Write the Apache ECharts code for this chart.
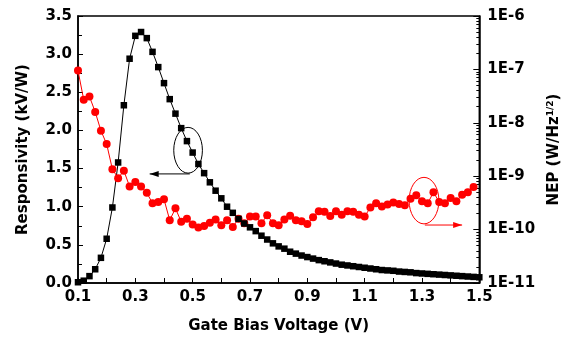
<!DOCTYPE html>
<html>
<head>
<meta charset="utf-8">
<script src="https://cdn.jsdelivr.net/npm/echarts@6/dist/echarts.min.js"></script>
<style>
  html, body { margin: 0; padding: 0; background: #fff; }
  #main { width: 570px; height: 341px; }
</style>
</head>
<body>
<div id="main"></div>
<script>
// gate voltage (V) for the responsivity curve
const voltageR = [0.10,0.12,0.14,0.16,0.18,0.20,0.22,0.24,0.26,0.28,0.30,0.32,0.34,0.36,0.38,0.40,0.42,0.44,0.46,0.48,
  0.50,0.52,0.54,0.56,0.58,0.60,0.62,0.64,0.66,0.68,0.70,0.72,0.74,0.76,0.78,0.80,0.82,0.84,0.86,0.88,
  0.90,0.92,0.94,0.96,0.98,1.00,1.02,1.04,1.06,1.08,1.10,1.12,1.14,1.16,1.18,1.20,1.22,1.24,1.26,1.28,
  1.30,1.32,1.34,1.36,1.38,1.40,1.42,1.44,1.46,1.48,1.50]
// responsivity (kV/W)
const responsivity = [0.01,0.03,0.09,0.18,0.33,0.58,0.99,1.58,2.33,2.94,3.24,3.29,3.21,3.03,2.83,2.62,2.41,2.22,2.03,1.86,
  1.71,1.56,1.44,1.32,1.21,1.11,1.00,0.92,0.84,0.78,0.73,0.68,0.62,0.57,0.52,0.48,0.45,0.41,0.385,0.36,
  0.34,0.32,0.30,0.285,0.27,0.255,0.24,0.23,0.22,0.21,0.20,0.19,0.18,0.17,0.165,0.16,0.15,0.145,0.14,0.13,
  0.125,0.12,0.115,0.11,0.105,0.10,0.095,0.09,0.085,0.08,0.075]

// gate voltage (V) for the NEP curve
const voltageN = [0.10,0.12,0.14,0.16,0.18,0.20,0.22,0.24,0.26,0.28,0.30,0.32,0.34,0.36,0.38,0.40,0.42,0.44,0.46,0.48,
  0.50,0.52,0.54,0.56,0.58,0.60,0.62,0.64,0.66,0.68,0.70,0.72,0.74,0.76,0.78,0.80,0.82,0.84,0.86,0.88,
  0.90,0.92,0.94,0.96,0.98,1.00,1.02,1.04,1.06,1.08,1.10,1.12,1.14,1.16,1.18,1.20,1.22,1.24,1.26,1.28,
  1.30,1.32,1.34,1.36,1.38,1.40,1.42,1.44,1.46,1.48]
// NEP (W/Hz^1/2)
const nep = [9.5e-8,2.7e-8,3.1e-8,1.6e-8,7.1e-9,4.0e-9,1.35e-9,9.2e-10,1.27e-9,6.4e-10,7.8e-10,6.4e-10,4.9e-10,3.1e-10,3.3e-10,3.7e-10,1.5e-10,2.5e-10,1.4e-10,1.6e-10,
  1.24e-10,1.1e-10,1.17e-10,1.35e-10,1.55e-10,1.2e-10,1.5e-10,1.12e-10,1.6e-10,1.32e-10,1.75e-10,1.75e-10,1.32e-10,1.86e-10,1.32e-10,1.2e-10,1.55e-10,1.82e-10,1.5e-10,1.43e-10,
  1.27e-10,1.7e-10,2.2e-10,2.15e-10,1.8e-10,2.2e-10,1.9e-10,2.2e-10,2.15e-10,1.9e-10,1.75e-10,2.6e-10,3.1e-10,2.7e-10,2.95e-10,3.2e-10,3.0e-10,2.85e-10,3.8e-10,4.4e-10,
  3.4e-10,3.1e-10,5.0e-10,3.3e-10,3.1e-10,3.9e-10,3.4e-10,4.5e-10,5.0e-10,6.3e-10]

// annotation marks, in (V, kV/W) units
const blackEllipse = {c: [0.484, 1.74], rx: 0.05, ry: 0.30}
const blackArrow = {from: [0.49, 1.43], to: [0.35, 1.43]}
const redEllipse = {c: [1.307, 1.08], rx: 0.052, ry: 0.305}
const redArrow = {from: [1.31, 0.76], to: [1.44, 0.76]}

const font = 'DejaVu Sans'
const labelStyle = {fontFamily: font, fontWeight: 'bold', fontSize: 15, color: '#000'}

const nepMinorTicks = []
for (let e = -11; e < -6; e++) {
  for (let m = 2; m <= 9; m++) nepMinorTicks.push(m * Math.pow(10, e))
}

const chart = echarts.init(document.getElementById('main'), null, {renderer: 'canvas'})

const option = {
  animation: false,
  backgroundColor: '#fff',
  grid: {
    left: 78, right: 78, top: 16, bottom: 58,
    show: true, borderColor: '#000', borderWidth: 1.5, backgroundColor: 'transparent'
  },
  xAxis: {
    type: 'value',
    min: 0.1, max: 1.5, interval: 0.1,
    name: 'Gate Bias Voltage (V)',
    nameLocation: 'middle',
    nameGap: 36,
    nameTextStyle: labelStyle,
    axisLine: {show: true, lineStyle: {color: '#000', width: 1.5}},
    axisTick: {inside: true, length: 5, lineStyle: {color: '#000', width: 1}},
    axisLabel: Object.assign({
      margin: 7,
      showMinLabel: true, showMaxLabel: true,
      formatter: (v) => {
        const t = Math.round(v * 10)
        return t % 2 === 1 ? (t / 10).toFixed(1) : ''
      }
    }, labelStyle),
    splitLine: {show: false}
  },
  yAxis: [
    {
      type: 'value',
      min: 0, max: 3.5, interval: 0.5,
      position: 'left',
      name: 'Responsivity (kV/W)',
      nameLocation: 'middle',
      nameGap: 47,
      nameRotate: 90,
      nameTextStyle: labelStyle,
      axisLine: {show: true, lineStyle: {color: '#000', width: 1.5}},
      axisTick: {inside: true, length: 5, lineStyle: {color: '#000', width: 1}},
      minorTick: {show: true, splitNumber: 2, length: 4, lineStyle: {color: '#000', width: 1}},
      axisLabel: Object.assign({margin: 6, formatter: (v) => v.toFixed(1)}, labelStyle),
      splitLine: {show: false}
    },
    {
      type: 'log',
      logBase: 10,
      min: 1e-11, max: 1e-6,
      position: 'right',
      name: 'NEP (W/Hz{sup|1/2})',
      nameLocation: 'middle',
      nameGap: 50,
      nameRotate: 90,
      nameTextStyle: Object.assign({
        rich: {sup: {fontFamily: font, fontWeight: 'bold', fontSize: 9, verticalAlign: 'top', padding: [0, 0, 8, 0]}}
      }, labelStyle),
      axisLine: {show: true, lineStyle: {color: '#000', width: 1.5}},
      axisTick: {inside: true, length: 6, lineStyle: {color: '#000', width: 1}},
      axisLabel: Object.assign({
        margin: 8,
        formatter: (v) => '1E' + Math.round(Math.log10(v))
      }, labelStyle),
      splitLine: {show: false}
    },
    {
      // only the small log ticks of the NEP axis
      type: 'log',
      logBase: 10,
      min: 1e-11, max: 1e-6,
      position: 'right',
      axisLine: {show: false},
      axisTick: {inside: true, length: 3, customValues: nepMinorTicks, lineStyle: {color: '#000', width: 1}},
      axisLabel: {show: false},
      splitLine: {show: false}
    }
  ],
  series: [
    {
      name: 'NEP',
      type: 'line',
      yAxisIndex: 1,
      data: voltageN.map((v, i) => [v, nep[i]]),
      symbol: 'circle',
      symbolSize: 8,
      itemStyle: {color: '#ff0000'},
      lineStyle: {color: '#ff0000', width: 1},
      clip: false
    },
    {
      name: 'Responsivity',
      type: 'line',
      yAxisIndex: 0,
      data: voltageR.map((v, i) => [v, responsivity[i]]),
      symbol: 'rect',
      symbolSize: 6.5,
      itemStyle: {color: '#000'},
      lineStyle: {color: '#000', width: 1},
      clip: false
    }
  ]
}

chart.setOption(option)

// ellipses and arrows, placed through the axes
const px = (p) => chart.convertToPixel({xAxisIndex: 0, yAxisIndex: 0}, p)
const ellipse = (e, color) => {
  const c = px(e.c)
  const edge = px([e.c[0] + e.rx, e.c[1] + e.ry])
  return {
    type: 'ellipse',
    shape: {cx: c[0], cy: c[1], rx: Math.abs(edge[0] - c[0]), ry: Math.abs(edge[1] - c[1])},
    style: {fill: null, stroke: color, lineWidth: 1},
    z: 100
  }
}
const arrow = (a, color) => {
  const p1 = px(a.from)
  const p2 = px(a.to)
  const dir = p2[0] > p1[0] ? -1 : 1
  return [
    {type: 'line', shape: {x1: p1[0], y1: p1[1], x2: p2[0], y2: p2[1]}, style: {stroke: color, lineWidth: 1}, z: 100},
    {
      type: 'polygon',
      shape: {points: [[p2[0], p2[1]], [p2[0] + dir * 9, p2[1] - 3], [p2[0] + dir * 9, p2[1] + 3]]},
      style: {fill: color},
      z: 100
    }
  ]
}

chart.setOption({
  graphic: [
    ellipse(blackEllipse, '#000'),
    ellipse(redEllipse, '#ff0000')
  ].concat(arrow(blackArrow, '#000'), arrow(redArrow, '#ff0000'))
})
</script>
</body>
</html>
